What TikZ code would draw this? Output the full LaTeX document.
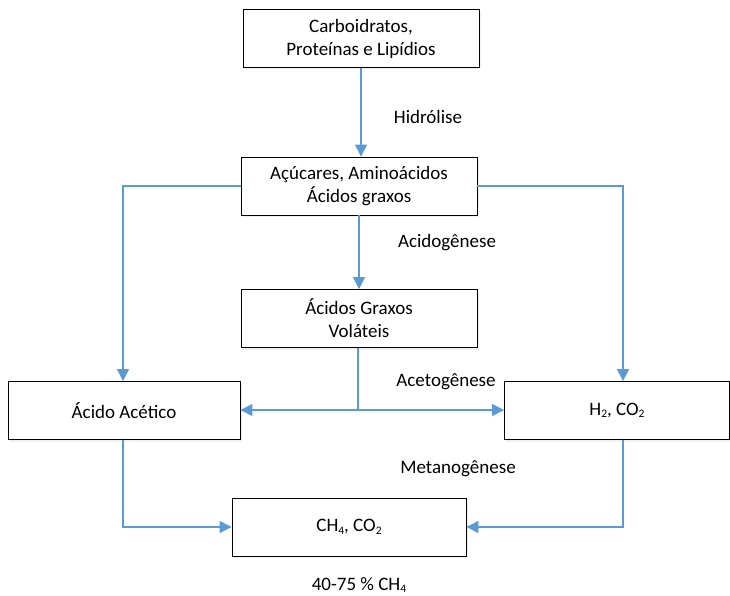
\documentclass[tikz,border=0pt]{standalone}
\usepackage{fontspec}
\setmainfont{Carlito}
\usetikzlibrary{arrows.meta,shadows}
\definecolor{flowblue}{HTML}{5B9BD5}
\newcommand{\chemsub}[1]{\raisebox{-0.25ex}{\fontsize{11.5}{12}\selectfont #1}}
\tikzset{
  stagebox/.style={draw=black, line width=0.9pt, fill=white, minimum width=236pt, minimum height=58pt,
    align=center, font=\fontsize{19}{23}\selectfont, inner sep=0pt,
    drop shadow={opacity=0.12, shadow xshift=1.5pt, shadow yshift=-2pt}},
  flow/.style={draw=flowblue, line width=1.3pt},
  flowarrow/.style={flow, -{Triangle[length=12pt,width=12pt]}},
  phase/.style={font=\fontsize{19}{22}\selectfont, inner sep=0pt}
}
\begin{document}
\begin{tikzpicture}[x=1pt,y=-1pt]
\useasboundingbox (0,0) rectangle (730,596);

% stages of anaerobic digestion
\node[stagebox] (sub) at (361,38.5) {Carboidratos,\\Proteínas e Lipídios};
\node[stagebox] (mon) at (359,186) {Açúcares, Aminoácidos\\Ácidos graxos};
\node[stagebox] (agv) at (359,318.5) {Ácidos Graxos\\Voláteis};
\node[stagebox, minimum width=232pt] (ace) at (124,410.5) {Ácido Acético};
\node[stagebox, minimum width=225pt] (hid) at (617,410.5) {H\chemsub{2}, CO\chemsub{2}};
\node[stagebox, minimum width=234pt] (bio) at (349,527) {CH\chemsub{4}, CO\chemsub{2}};
\node[phase] (pct) at (359,585) {40-75 \% CH\chemsub{4}};

% branch points
\coordinate (split) at (358,410);
\coordinate (aceknee) at (123,186);
\coordinate (hidknee) at (623,186);
\coordinate (acelow) at (123,527);
\coordinate (hidlow) at (623,527);

% connectors
\draw[flowarrow] (sub.south) -- (sub.south |- mon.north);
\draw[flowarrow] (mon.south) -- (mon.south |- agv.north);
\draw[flowarrow] (mon.west) -- (aceknee) -- (aceknee |- ace.north);
\draw[flowarrow] (mon.east) -- (hidknee) -- (hidknee |- hid.north);
\draw[flow] (agv.south -| split) -- (split);
\draw[flowarrow] (split) -- (split -| ace.east);
\draw[flowarrow] (split) -- (split -| hid.west);
\draw[flowarrow] (ace.south -| acelow) -- (acelow) -- (bio.west);
\draw[flowarrow] (hid.south -| hidlow) -- (hidlow) -- (bio.east);

% phase labels
\node[phase] (hidr) at (428,117) {Hidrólise};
\node[phase] (acid) at (447,243) {Acidogênese};
\node[phase] (acet) at (446,382) {Acetogênese};
\node[phase] (meta) at (458,469) {Metanogênese};
\end{tikzpicture}
\end{document}
